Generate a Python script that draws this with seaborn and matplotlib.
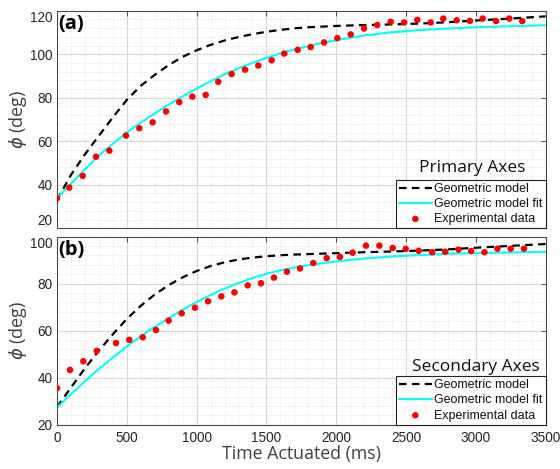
import numpy as np
import pandas as pd
import matplotlib
matplotlib.use("Agg")
import matplotlib.pyplot as plt
import seaborn as sns
from matplotlib.ticker import MultipleLocator

# ---- measured data -------------------------------------------------------
# (a) primary axes
t_a = [0, 88, 184, 279, 375, 494, 590, 685, 781, 876, 969, 1065, 1155, 1251,
       1347, 1442, 1538, 1628, 1724, 1817, 1913, 2008, 2104, 2199, 2294, 2390,
       2486, 2581, 2677, 2767, 2863, 2958, 3049, 3145, 3240, 3333]
phi_a = [33.8, 38.7, 44.1, 52.9, 55.7, 62.6, 66.0, 68.7, 73.7, 78.0, 80.5,
         81.3, 87.3, 90.9, 92.9, 94.8, 97.2, 100.3, 102.0, 103.3, 105.4, 107.4,
         109.1, 111.8, 113.4, 114.9, 114.6, 115.8, 114.6, 116.4, 115.6, 115.3,
         116.4, 115.2, 116.4, 115.2]

# (b) secondary axes
t_b = [0, 93, 189, 285, 423, 518, 614, 709, 800, 893, 988, 1082, 1177, 1271,
       1366, 1461, 1554, 1647, 1741, 1836, 1932, 2027, 2118, 2213, 2309, 2405,
       2498, 2591, 2688, 2781, 2876, 2967, 3062, 3155, 3250, 3345]
phi_b = [35.5, 43.3, 47.0, 51.4, 54.7, 56.1, 57.2, 60.3, 64.3, 67.4, 69.8,
         72.5, 74.6, 76.3, 79.3, 80.2, 82.6, 85.1, 86.5, 88.8, 90.9, 91.4, 93.2,
         96.2, 96.2, 95.2, 94.8, 94.0, 93.4, 93.6, 94.5, 93.9, 93.4, 94.9, 94.9,
         94.9]

# model curves sampled on a common time grid
t_model = [0, 100, 200, 300, 400, 500, 600, 700, 800, 900, 1000, 1100, 1200,
           1300, 1400, 1500, 1600, 1700, 1800, 2000, 2200, 2400, 2600, 2800,
           3000, 3250, 3500]
geo_a = [33.0, 44.5, 54.0, 62.5, 71.0, 79.0, 85.5, 90.5, 95.0, 98.8, 101.8,
         104.3, 106.3, 107.9, 109.2, 110.3, 111.2, 111.9, 112.4, 113.0, 113.4,
         113.7, 114.1, 114.7, 115.5, 116.4, 117.4]
fit_a = [33.8, 40.5, 47.0, 53.5, 58.8, 64.0, 68.6, 72.8, 76.8, 80.6, 84.2,
         87.6, 90.7, 93.5, 96.0, 98.3, 100.4, 102.2, 103.8, 106.5, 108.6,
         110.1, 111.1, 111.8, 112.4, 112.9, 113.3]
geo_b = [27.5, 35.8, 44.0, 51.5, 58.5, 65.0, 70.6, 75.4, 79.4, 82.7, 85.4,
         87.5, 89.1, 90.3, 91.1, 91.7, 92.1, 92.4, 92.6, 93.0, 93.4, 93.7,
         94.1, 94.6, 95.3, 96.1, 96.9]
fit_b = [27.3, 33.0, 38.5, 43.7, 48.6, 53.3, 57.6, 61.6, 65.3, 68.9, 72.2,
         75.2, 77.9, 80.3, 82.4, 84.2, 85.7, 86.9, 87.9, 89.5, 90.7, 91.6,
         92.2, 92.7, 93.0, 93.3, 93.6]

series_labels = ["Geometric model", "Geometric model fit", "Experimental data"]
panel_tags = ["(a)", "(b)"]
panel_titles = ["Primary Axes", "Secondary Axes"]
y_limits = [(20, 120), (20, 100)]
x_ticks = [0, 500, 1000, 1500, 2000, 2500, 3000, 3500]

# ---- style ----------------------------------------------------------------
sns.set_theme(style="white")
plt.rcParams["font.family"] = ["Liberation Sans", "DejaVu Sans"]
plt.rcParams["mathtext.fontset"] = "dejavusans"
label_family = ["Open Sans", "DejaVu Sans"]

W, H = 560, 469
fig = plt.figure(figsize=(W / 100, H / 100), dpi=100)
fig.patch.set_facecolor("white")

def px_axes(left, top, right, bottom):
    return fig.add_axes([left / W, 1 - bottom / H, (right - left) / W,
                         (bottom - top) / H])

ax_a = px_axes(57, 10.7, 545.6, 228.3)
ax_b = px_axes(57, 236.7, 545.6, 424.7)

panels = [
    (ax_a, t_a, phi_a, geo_a, fit_a),
    (ax_b, t_b, phi_b, geo_b, fit_b),
]

frame_col = "#4a4a4a"
for i, (ax, t_exp, phi_exp, geo, fit) in enumerate(panels):
    ax.set_facecolor("white")
    ax.set_axisbelow(True)
    sns.lineplot(x=t_model, y=geo, ax=ax, color="black", linewidth=1.6,
                 label=series_labels[0])
    sns.lineplot(x=t_model, y=fit, ax=ax, color="#00FFFF", linewidth=1.5,
                 label=series_labels[1])
    sns.scatterplot(x=t_exp, y=phi_exp, ax=ax, color="#FF0000", s=22,
                    edgecolor="none", label=series_labels[2], zorder=4)
    ax.lines[0].set_dashes((3.4, 2.4))

    lo, hi = y_limits[i]
    ax.set_xlim(0, 3500)
    ax.set_ylim(lo, hi)
    ax.set_xticks(x_ticks)
    ax.set_yticks(list(range(lo, hi + 1, 20)))
    ax.xaxis.set_minor_locator(MultipleLocator(100))
    ax.yaxis.set_minor_locator(MultipleLocator(4))
    ax.grid(True, which="major", color="#d8d8d8", linewidth=0.8)
    ax.grid(True, which="minor", color="#e2e2e2", linewidth=0.7,
            linestyle=(0, (1, 1.5)))
    ax.tick_params(which="major", direction="in", length=3.5, width=0.7,
                   top=True, right=True, colors=frame_col,
                   labelcolor="#262626", labelsize=9.8)
    ax.tick_params(axis="y", pad=3)
    ax.tick_params(axis="x", pad=4.5)
    ax.tick_params(which="minor", length=0)
    for sp in ax.spines.values():
        sp.set_color(frame_col)
        sp.set_linewidth(0.8)
    ax.set_ylabel(r"$\phi$ (deg)", fontsize=13, color="#404040",
                  family=label_family)
    ax.yaxis.set_label_coords(-0.058, 0.5)
    ax.set_xlabel("")

    ax.text(0.003, 0.985, panel_tags[i], transform=ax.transAxes,
            ha="left", va="top", fontsize=14.5, fontweight="bold",
            color="black", family=label_family)

    leg = ax.legend(loc="lower right", borderaxespad=0, frameon=True,
                    fancybox=False, framealpha=1, fontsize=9,
                    handlelength=2.6, handletextpad=0.2, labelspacing=0.25,
                    borderpad=0.25, markerscale=1.0)
    leg.get_frame().set_edgecolor("#222222")
    leg.get_frame().set_linewidth(0.8)
    for txt in leg.get_texts():
        txt.set_color("#111111")

ax_a.tick_params(axis="x", labelbottom=False)
ax_b.set_xlabel("Time Actuated (ms)", fontsize=12.8, color="#404040",
                family=label_family)
ax_b.xaxis.set_label_coords(0.5, -0.108)

# titles centred above the legend boxes
ax_a.text(0.849, 0.276, panel_titles[0], transform=ax_a.transAxes,
          ha="center", va="center", fontsize=12.5, color="#111111",
          family=label_family)
ax_b.text(0.858, 0.309, panel_titles[1], transform=ax_b.transAxes,
          ha="center", va="center", fontsize=12.5, color="#111111",
          family=label_family)

# keep the end labels of the y axes inside the frame
fig.canvas.draw()
def shift_end_labels(ax, bottom=True, top=True):
    ticks = ax.yaxis.get_major_ticks()
    locs = list(ax.yaxis.get_majorticklocs())
    lo, hi = ax.get_ylim()
    for tk, loc in zip(ticks, locs):
        if bottom and abs(loc - lo) < 1e-6:
            tk.label1.set_va("bottom")
        if top and abs(loc - hi) < 1e-6:
            tk.label1.set_va("top")

shift_end_labels(ax_a, bottom=True, top=True)
shift_end_labels(ax_b, bottom=False, top=True)

fig.savefig("out.png", dpi=100, facecolor="white")
